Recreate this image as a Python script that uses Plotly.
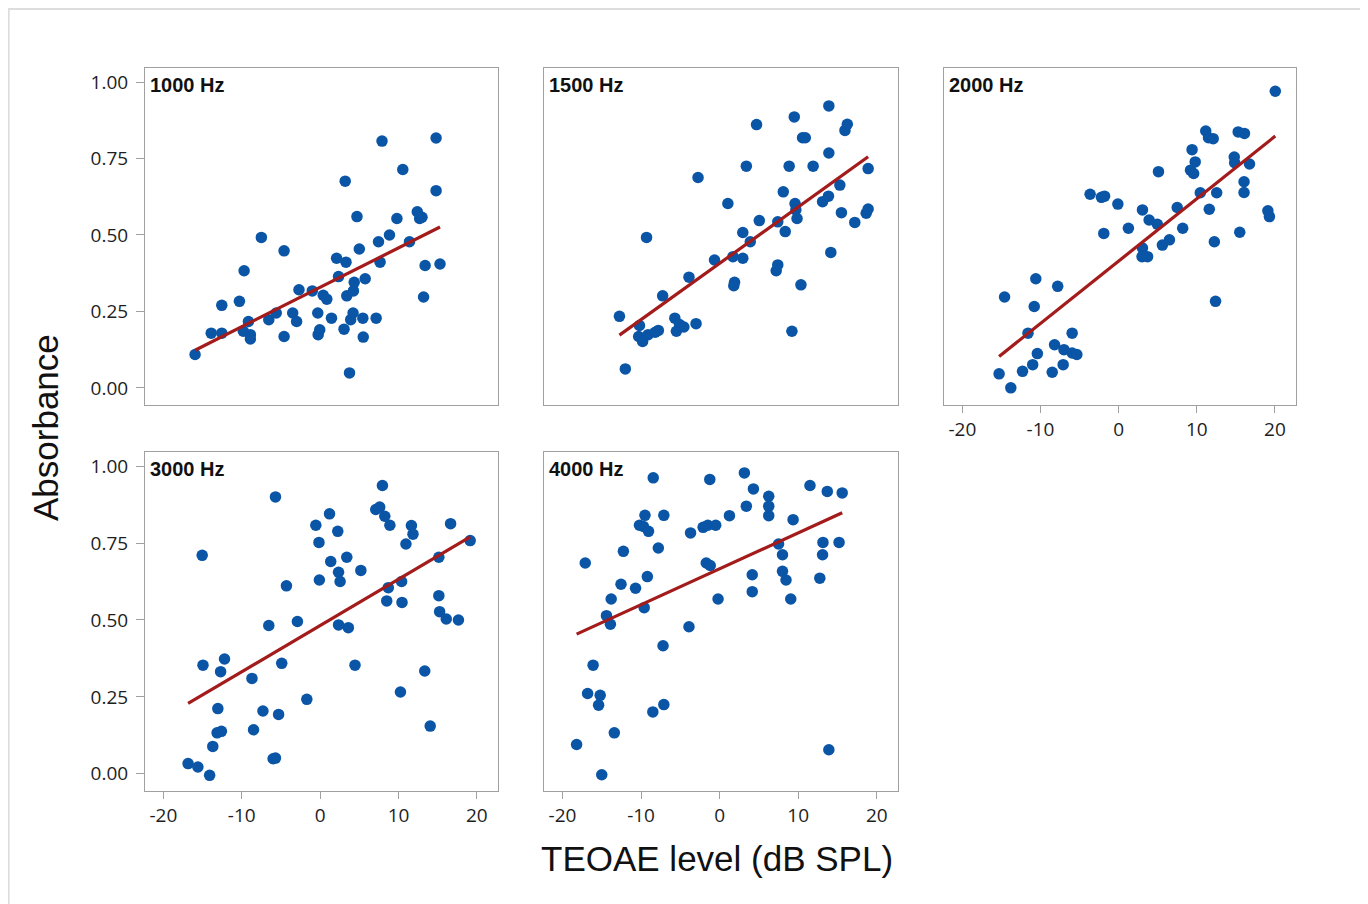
import numpy as np
import plotly.graph_objects as go

# ---------------- data ----------------
panel_titles = ["1000 Hz", "1500 Hz", "2000 Hz", "3000 Hz", "4000 Hz"]

x_1000 = [-15.96, -13.9, -12.55, -12.55, -10.3, -9.7, -9.8, -9.15, -8.9, -8.9, -7.5, -6.55, -5.6, -4.6, -4.6,
          -3.5, -3.0, -2.7, -1.0, -0.3, -0.25, -0.05, 0.4, 0.85, 1.45, 2.1, 2.35, 3.2, 3.3, 3.05, 3.4, 3.75,
          3.9, 4.2, 4.25, 4.35, 4.7, 5.0, 5.45, 5.5, 5.75, 7.15, 7.45, 7.65, 7.9, 8.85, 9.8, 10.55, 11.4,
          12.4, 12.7, 13.0, 13.4, 13.2, 14.8, 14.8, 15.3]
y_1000 = [0.109, 0.179, 0.179, 0.27, 0.283, 0.383, 0.185, 0.217, 0.174, 0.16, 0.492, 0.223, 0.245, 0.448, 0.168,
          0.245, 0.217, 0.321, 0.317, 0.245, 0.174, 0.19, 0.303, 0.29, 0.228, 0.424, 0.364, 0.676, 0.411, 0.192,
          0.301, 0.049, 0.223, 0.245, 0.317, 0.345, 0.56, 0.454, 0.228, 0.166, 0.357, 0.228, 0.478, 0.411,
          0.807, 0.5, 0.554, 0.714, 0.478, 0.576, 0.554, 0.558, 0.4, 0.297, 0.817, 0.645, 0.405]

x_1500 = [-12.75, -12.0, -10.2, -10.3, -9.8, -9.3, -9.1, -8.2, -7.8, -7.25, -5.7, -5.5, -5.1, -4.55, -3.9, -3.0,
          -2.75, -0.65, 1.05, 1.7, 1.9, 1.8, 2.95, 2.95, 3.4, 3.9, 4.7, 5.05, 7.2, 7.4, 7.4, 8.1, 8.35, 8.85,
          9.2, 9.5, 9.6, 9.7, 9.85, 10.35, 10.55, 10.9, 11.9, 13.1, 13.85, 13.9, 13.9, 14.15, 15.3, 15.5,
          15.95, 16.25, 17.2, 18.65, 18.9, 18.9]
y_1500 = [0.234, 0.062, 0.204, 0.168, 0.152, 0.492, 0.174, 0.182, 0.188, 0.301, 0.228, 0.185, 0.207, 0.199,
          0.362, 0.21, 0.688, 0.418, 0.603, 0.429, 0.345, 0.334, 0.424, 0.508, 0.725, 0.478, 0.861, 0.547,
          0.383, 0.402, 0.543, 0.641, 0.511, 0.725, 0.185, 0.886, 0.603, 0.582, 0.554, 0.337, 0.818, 0.818,
          0.725, 0.609, 0.627, 0.768, 0.922, 0.443, 0.663, 0.573, 0.842, 0.862, 0.541, 0.571, 0.585, 0.717]

x_2000 = [-15.3, -14.6, -13.8, -12.3, -11.6, -11.0, -10.8, -10.6, -10.4, -8.5, -8.2, -7.8, -7.1, -7.0, -5.95,
          -5.95, -5.35, -3.65, -2.2, -1.8, -1.9, -0.1, 1.25, 3.05, 3.05, 3.0, 3.7, 3.9, 4.95, 5.1, 5.6, 6.5,
          7.5, 8.2, 9.4, 9.2, 9.6, 9.8, 10.45, 11.15, 11.5, 12.1, 11.6, 12.25, 12.4, 12.55, 14.8, 14.85, 15.3,
          16.1, 15.5, 16.05, 16.05, 16.75, 19.1, 19.3, 20.05]
y_2000 = [0.046, 0.297, 0.0, 0.054, 0.179, 0.076, 0.266, 0.357, 0.112, 0.051, 0.141, 0.332, 0.076, 0.125,
          0.179, 0.114, 0.109, 0.633, 0.623, 0.627, 0.505, 0.601, 0.522, 0.582, 0.457, 0.429, 0.429, 0.549,
          0.535, 0.707, 0.467, 0.484, 0.59, 0.522, 0.779, 0.712, 0.701, 0.739, 0.638, 0.84, 0.818, 0.815,
          0.584, 0.478, 0.283, 0.638, 0.755, 0.736, 0.837, 0.832, 0.509, 0.674, 0.639, 0.732, 0.579, 0.56, 0.97]

x_3000 = [-16.85, -15.6, -15.05, -14.95, -14.1, -13.7, -13.15, -13.05, -12.7, -12.6, -12.2, -8.7, -8.5, -7.3,
          -6.55, -6.0, -5.7, -5.7, -5.3, -4.9, -4.3, -2.9, -1.7, -0.55, -0.15, -0.1, 1.2, 1.35, 2.25, 2.35,
          2.55, 2.35, 3.4, 3.6, 4.45, 5.2, 7.1, 7.6, 7.95, 8.25, 8.5, 8.7, 8.9, 10.25, 10.4, 10.45, 10.95,
          11.65, 11.85, 13.35, 14.05, 15.15, 15.15, 15.25, 16.1, 16.65, 17.65, 19.15]
y_3000 = [0.033, 0.022, 0.71, 0.353, -0.005, 0.089, 0.133, 0.212, 0.332, 0.138, 0.373, 0.31, 0.143, 0.204,
          0.482, 0.049, 0.051, 0.9, 0.193, 0.359, 0.611, 0.495, 0.242, 0.808, 0.752, 0.63, 0.845, 0.69, 0.788,
          0.655, 0.625, 0.484, 0.704, 0.475, 0.353, 0.661, 0.859, 0.867, 0.937, 0.837, 0.562, 0.605, 0.808,
          0.266, 0.625, 0.557, 0.747, 0.807, 0.779, 0.334, 0.155, 0.704, 0.579, 0.527, 0.503, 0.813, 0.5, 0.758]

x_4000 = [-18.2, -17.1, -16.8, -16.1, -15.4, -15.2, -15.0, -14.4, -13.9, -13.8, -13.4, -12.55, -12.25, -10.7,
          -10.2, -9.6, -9.5, -9.7, -9.2, -9.05, -8.5, -8.45, -7.8, -7.2, -7.1, -7.1, -3.9, -3.7, -2.1, -1.5,
          -1.25, -1.7, -1.2, -0.5, -0.2, 1.25, 3.15, 3.4, 4.15, 4.15, 4.3, 6.25, 6.25, 6.25, 7.5, 8.0, 8.0,
          8.45, 9.05, 9.35, 11.5, 12.75, 13.1, 13.15, 13.7, 13.9, 15.2, 15.6]
y_4000 = [0.095, 0.685, 0.261, 0.353, 0.223, 0.255, -0.003, 0.514, 0.486, 0.568, 0.133, 0.616, 0.723, 0.603,
          0.808, 0.54, 0.84, 0.804, 0.641, 0.788, 0.201, 0.962, 0.734, 0.416, 0.225, 0.84, 0.478, 0.783,
          0.801, 0.808, 0.957, 0.685, 0.677, 0.808, 0.568, 0.839, 0.978, 0.87, 0.647, 0.592, 0.926, 0.902,
          0.87, 0.839, 0.747, 0.712, 0.658, 0.63, 0.568, 0.826, 0.937, 0.636, 0.712, 0.752, 0.918, 0.078,
          0.752, 0.913]

x_series = [x_1000, x_1500, x_2000, x_3000, x_4000]
y_series = [y_1000, y_1500, y_2000, y_3000, y_4000]

x_ticks = [-20, -10, 0, 10, 20]
x_ticktext = ["-20", "-10", "0", "10", "20"]
y_ticks = [0.0, 0.25, 0.5, 0.75, 1.0]
y_ticktext = ["0.00", "0.25", "0.50", "0.75", "1.00"]

x_title = "TEOAE level (dB SPL)"
y_title = "Absorbance"

# ---------------- styling / layout ----------------
OFF = 8                      # page body margin offset
W, H = 1368 - OFF, 904 - OFF
DOT = "#0A55A6"
FIT = "#A31B1B"
AXIS = "#A0A0A0"
TICKFONT = dict(family="Open Sans", size=19, color="#1E1E1E")

# panel boxes in screen pixels: (left, right, top, bottom)
boxes = [(145, 498, 68, 405), (544, 898, 68, 405), (944, 1296, 68, 405),
         (145, 498, 452, 791), (544, 898, 452, 791)]
show_x = [False, False, True, True, True]
show_y = [True, False, False, True, False]

XR = [-22.35, 22.7]
YR = [-0.056, 1.046]


def px(x):
    return (x - OFF) / W


def py(y):
    return 1 - (y - OFF) / H


fig = go.Figure()
layout = dict(
    width=W, height=H, margin=dict(l=0, r=0, t=0, b=0),
    paper_bgcolor="white", plot_bgcolor="white", showlegend=False,
    font=dict(family="Open Sans", size=16, color="#222222"),
)

annotations = []
for i in range(5):
    xs = np.array(x_series[i], dtype=float)
    ys = np.array(y_series[i], dtype=float)
    ax = "" if i == 0 else str(i + 1)
    fig.add_trace(go.Scatter(
        x=xs, y=ys, mode="markers", xaxis="x" + ax, yaxis="y" + ax,
        marker=dict(size=11.5, color=DOT, line=dict(width=0)), hoverinfo="skip"))
    slope, icpt = np.polyfit(xs, ys, 1)
    xl = np.array([xs.min(), xs.max()])
    fig.add_trace(go.Scatter(
        x=xl, y=icpt + slope * xl, mode="lines", xaxis="x" + ax, yaxis="y" + ax,
        line=dict(color=FIT, width=3.2), hoverinfo="skip"))

    l, r, t, b = boxes[i]
    layout["xaxis" + ax] = dict(
        domain=[px(l), px(r)], range=XR, anchor="y" + ax, showgrid=False, zeroline=False,
        showline=True, mirror=True, linecolor=AXIS, linewidth=1,
        tickvals=x_ticks, ticktext=x_ticktext, ticks="outside" if show_x[i] else "", ticklen=7,
        tickcolor=AXIS, showticklabels=show_x[i], tickfont=TICKFONT)
    layout["yaxis" + ax] = dict(
        domain=[py(b), py(t)], range=YR, anchor="x" + ax, showgrid=False, zeroline=False,
        showline=True, mirror=True, linecolor=AXIS, linewidth=1,
        tickvals=y_ticks, ticktext=y_ticktext, ticks="outside" if show_y[i] else "",
        ticklen=8, tickcolor=AXIS, showticklabels=show_y[i], ticklabelstandoff=4,
        tickfont=TICKFONT)
    annotations.append(dict(
        text="<b>%s</b>" % panel_titles[i], xref="paper", yref="paper",
        x=px(l + 3), y=py(t + 4), xanchor="left", yanchor="top",
        showarrow=False, font=dict(family="Liberation Sans", size=20, color="#111111")))

annotations.append(dict(text=x_title, xref="paper", yref="paper", x=px(717), y=py(858),
                        xanchor="center", yanchor="middle", showarrow=False,
                        font=dict(family="Liberation Sans", size=35, color="#111111")))
annotations.append(dict(text=y_title, xref="paper", yref="paper", x=px(45), y=py(428),
                        xanchor="center", yanchor="middle", showarrow=False, textangle=-90,
                        font=dict(family="Liberation Sans", size=35, color="#111111")))
layout["annotations"] = annotations
layout["shapes"] = [dict(type="rect", xref="paper", yref="paper",
                         x0=0.0005, x1=px(1361), y0=-0.01, y1=0.999,
                         line=dict(color="#DDDDDD", width=2), fillcolor="rgba(0,0,0,0)", layer="below")]
fig.update_layout(**layout)
fig.write_html("out.html")
